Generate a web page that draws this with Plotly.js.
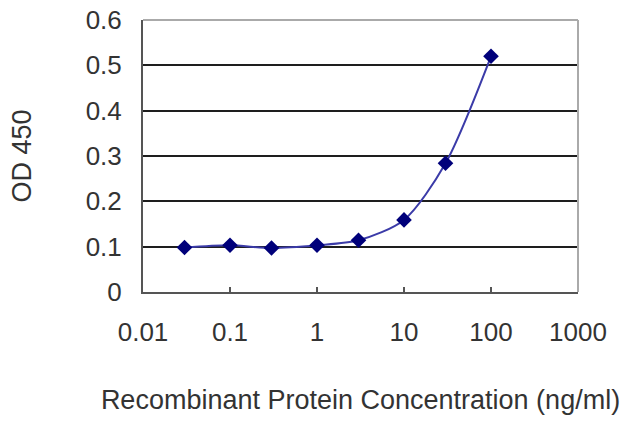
<!DOCTYPE html>
<html>
<head>
<meta charset="utf-8">
<script src="https://cdn.plot.ly/plotly-3.0.1.min.js"></script>
<style>
  html, body { margin: 0; padding: 0; background: #fff; }
  #chart { width: 640px; height: 427px; }
</style>
</head>
<body>
<div id="chart"></div>
<script>
var concentration = [0.03, 0.1, 0.3, 1, 3, 10, 30, 100];
var od450 = [0.098, 0.103, 0.097, 0.103, 0.114, 0.159, 0.284, 0.52];
var xTicks = [0.01, 0.1, 1, 10, 100, 1000];
var xTickLabels = ['0.01', '0.1', '1', '10', '100', '1000'];
var yTicks = [0, 0.1, 0.2, 0.3, 0.4, 0.5, 0.6];
var yTickLabels = ['0', '0.1', '0.2', '0.3', '0.4', '0.5', '0.6'];

var tickFont = {family: 'Liberation Sans, Arial, sans-serif', size: 26, color: '#333'};
var titleFont = {family: 'Liberation Sans, Arial, sans-serif', size: 27, color: '#333'};

var trace1 = {
  type: 'scatter',
  x: concentration,
  y: od450,
  mode: 'lines+markers',
  line: {
    color: '#3b3ba8',
    width: 2,
    shape: 'spline',
    smoothing: 0.8
  },
  marker: {
    symbol: 'diamond',
    size: 12,
    color: '#00007a'
  },
  hoverinfo: 'x+y'
};

var layout = {
  width: 640,
  height: 427,
  margin: {l: 143, r: 62, t: 20, b: 135},
  paper_bgcolor: '#fff',
  plot_bgcolor: '#fff',
  showlegend: false,
  font: tickFont,
  xaxis: {
    type: 'log',
    range: [-2, 3],
    tickvals: xTicks,
    ticktext: xTickLabels,
    ticks: 'inside',
    ticklen: 5,
    tickwidth: 2,
    tickcolor: '#555',
    ticklabelstandoff: 16,
    showgrid: false,
    zeroline: false,
    showline: true,
    linecolor: '#555',
    linewidth: 2,
    mirror: false,
    tickfont: tickFont,
    title: {text: 'Recombinant Protein Concentration (ng/ml)', font: titleFont, standoff: 44}
  },
  yaxis: {
    range: [0, 0.6],
    tickvals: yTicks,
    ticktext: yTickLabels,
    ticks: '',
    ticklabelstandoff: 14,
    showgrid: true,
    gridcolor: '#1e1e1e',
    gridwidth: 2,
    zeroline: false,
    showline: true,
    linecolor: '#555',
    linewidth: 2,
    tickfont: tickFont,
    title: {text: 'OD 450', font: titleFont, standoff: 46}
  },
  shapes: [
    {type: 'line', xref: 'paper', yref: 'paper', x0: 0, x1: 1, y0: 1, y1: 1,
     line: {color: '#aaa', width: 2}},
    {type: 'line', xref: 'paper', yref: 'paper', x0: 1, x1: 1, y0: 0, y1: 1,
     line: {color: '#aaa', width: 2}}
  ]
};

Plotly.newPlot('chart', [trace1], layout, {displayModeBar: false, responsive: false});
</script>
</body>
</html>
